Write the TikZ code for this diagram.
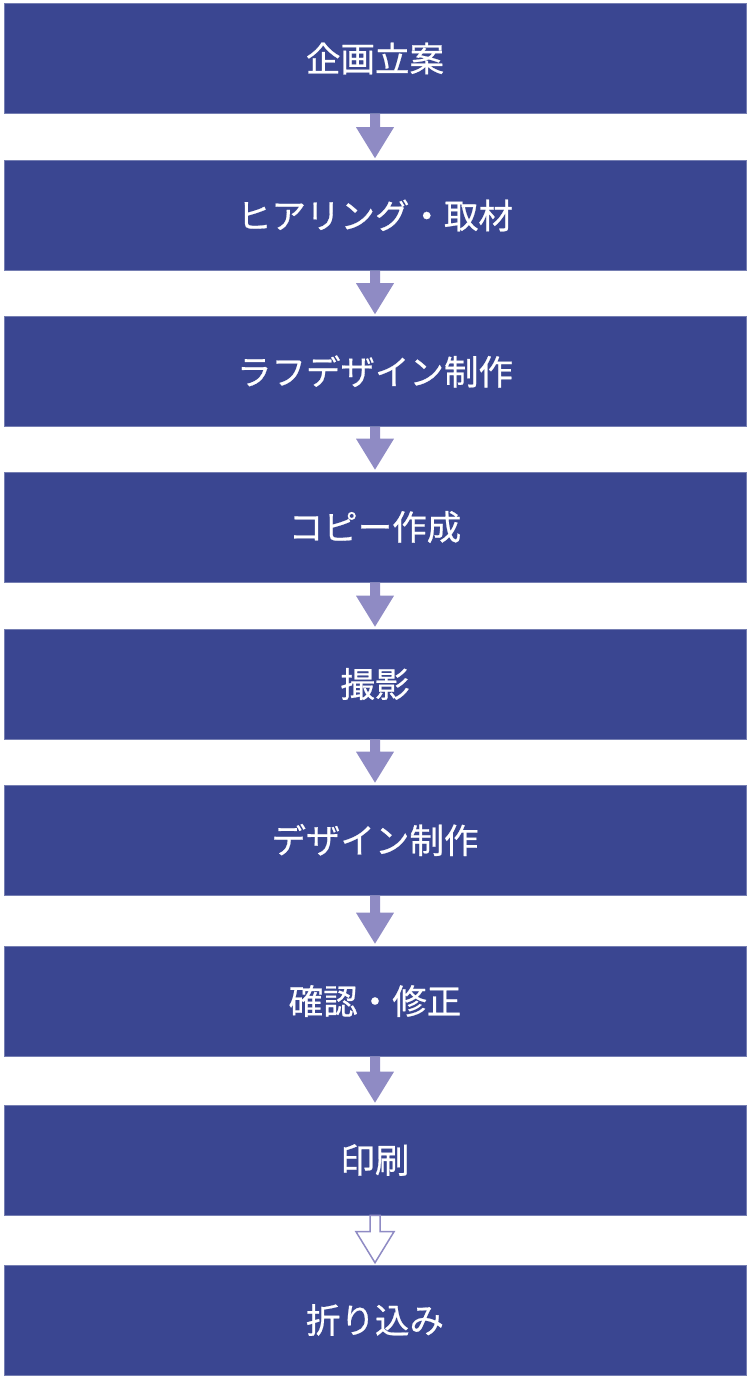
\documentclass[tikz,border=0pt]{standalone}
\usepackage{fontspec}
\setmainfont{Noto Sans CJK JP}
\newfontfamily\boxfont[FakeBold=0.6]{Noto Sans CJK JP}
\usetikzlibrary{calc}
\definecolor{boxblue}{HTML}{3A4691}
\definecolor{arrowpurple}{HTML}{8F8BC4}
\tikzset{
  stepbox/.style={fill=boxblue, draw=boxblue!70!white, line width=0.6pt, minimum width=742pt, minimum height=110pt, inner sep=0pt, text=white, font=\boxfont\fontsize{34.5}{40}\selectfont},
  solidarrow/.style={fill=arrowpurple, draw=none},
  hollowarrow/.style={fill=white, draw=arrowpurple, line width=1.5pt, line join=miter}
}
\newcommand{\flowarrow}[3]{%
  \path[#3] let \p1=(#1.south), \p2=(#2.north) in
    (\x1-5pt,\y1) -- (\x1+5pt,\y1) -- (\x1+5pt,\y2+33pt) -- (\x1+19pt,\y2+33pt)
    -- (\x1,\y2+2pt) -- (\x1-19pt,\y2+33pt) -- (\x1-5pt,\y2+33pt) -- cycle;}
\begin{document}
\begin{tikzpicture}[x=1pt,y=-1pt]
\useasboundingbox (0,0) rectangle (750,1382);
\node[stepbox] (n1) at (375,58.5) {企画立案};
\node[stepbox] (n2) at (375,215.5) {ヒアリング・取材};
\node[stepbox] (n3) at (375,371.5) {ラフデザイン制作};
\node[stepbox] (n4) at (375,527) {コピー作成};
\node[stepbox] (n5) at (375,684) {撮影};
\node[stepbox] (n6) at (375,840) {デザイン制作};
\node[stepbox] (n7) at (375,1001) {確認・修正};
\node[stepbox] (n8) at (375,1160) {印刷};
\node[stepbox] (n9) at (375,1320) {折り込み};
\flowarrow{n1}{n2}{solidarrow}
\flowarrow{n2}{n3}{solidarrow}
\flowarrow{n3}{n4}{solidarrow}
\flowarrow{n4}{n5}{solidarrow}
\flowarrow{n5}{n6}{solidarrow}
\flowarrow{n6}{n7}{solidarrow}
\flowarrow{n7}{n8}{solidarrow}
\flowarrow{n8}{n9}{hollowarrow}
\end{tikzpicture}
\end{document}
